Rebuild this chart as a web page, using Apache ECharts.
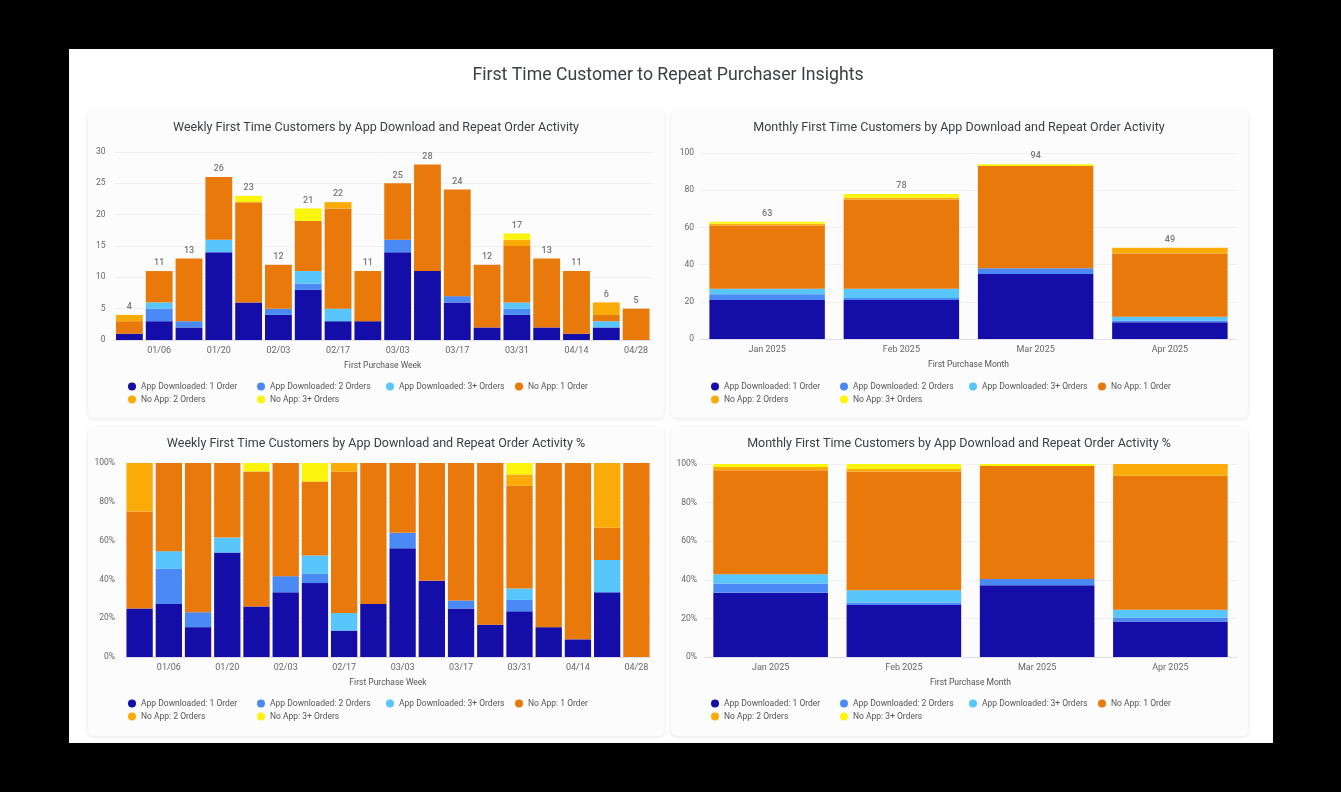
<!DOCTYPE html>
<html>
<head>
<meta charset="utf-8">
<script src="https://cdn.jsdelivr.net/npm/echarts@6/dist/echarts.min.js"></script>
<style>
  html, body { margin:0; padding:0; background:#000; width:1341px; height:792px; overflow:hidden; }
  #page { position:absolute; left:69px; top:49px; width:1204px; height:694px; background:#ffffff; }
  .card { position:absolute; background:#fcfcfc; border-radius:6px; box-shadow:0 1px 4px rgba(0,0,0,0.10); }
  #chart { position:absolute; left:0; top:0; width:1341px; height:792px; }
</style>
</head>
<body>
<div id="page"></div>
<div class="card" style="left:88px;top:110px;width:576px;height:308px;"></div>
<div class="card" style="left:671px;top:110px;width:577px;height:308px;"></div>
<div class="card" style="left:88px;top:427px;width:576px;height:309px;"></div>
<div class="card" style="left:671px;top:427px;width:577px;height:309px;"></div>
<div id="chart"></div>
<script>
// ---------- data ----------
const seriesNames = ['App Downloaded: 1 Order','App Downloaded: 2 Orders','App Downloaded: 3+ Orders','No App: 1 Order','No App: 2 Orders','No App: 3+ Orders'];
const seriesColors = ['#140da8','#4b8af5','#58c5fb','#e8790a','#fbab08','#fbf40c'];

const weeks = ['12/30','01/06','01/13','01/20','01/27','02/03','02/10','02/17','02/24','03/03','03/10','03/17','03/24','03/31','04/07','04/14','04/21','04/28'];
const wkApp1  = [1,3,2,14,6,4,8,3,3,14,11,6,2,4,2,1,2,0];
const wkApp2  = [0,2,1,0,0,1,1,0,0,2,0,1,0,1,0,0,0,0];
const wkApp3  = [0,1,0,2,0,0,2,2,0,0,0,0,0,1,0,0,1,0];
const wkNo1   = [2,5,10,10,16,7,8,16,8,9,17,17,10,9,11,10,1,5];
const wkNo2   = [1,0,0,0,0,0,0,1,0,0,0,0,0,1,0,0,2,0];
const wkNo3   = [0,0,0,0,1,0,2,0,0,0,0,0,0,1,0,0,0,0];

const months = ['Jan 2025','Feb 2025','Mar 2025','Apr 2025'];
const moApp1 = [21,21,35,9];
const moApp2 = [3,1,3,1];
const moApp3 = [3,5,0,2];
const moNo1  = [34,48,55,34];
const moNo2  = [1,1,0,3];
const moNo3  = [1,2,1,0];

const weeklyTicks = [0,5,10,15,20,25,30];
const monthlyTicks = [0,20,40,60,80,100];

// ---------- helpers ----------
const wk = [wkApp1,wkApp2,wkApp3,wkNo1,wkNo2,wkNo3];
const mo = [moApp1,moApp2,moApp3,moNo1,moNo2,moNo3];
function totals(arrs){ return arrs[0].map((_,i)=>arrs.reduce((s,a)=>s+a[i],0)); }
function pct(arrs){ const t = totals(arrs); return arrs.map(a=>a.map((v,i)=> t[i] ? v/t[i]*100 : 0)); }
const wkTot = totals(wk), moTot = totals(mo);
const wkPct = pct(wk), moPct = pct(mo);

const FONT = 'Roboto, "Noto Sans", sans-serif';
const labelColor = '#666';

function barSeries(arrs, idx, gap){
  return arrs.map((d,k)=>({
    type:'bar', name:seriesNames[k], stack:'s'+idx, xAxisIndex:idx, yAxisIndex:idx,
    data:d, barCategoryGap:gap, itemStyle:{color:seriesColors[k]}, emphasis:{disabled:true}
  }));
}
function totalSeries(t, idx){
  return {type:'scatter', xAxisIndex:idx, yAxisIndex:idx, data:t, symbolSize:1, silent:true,
    itemStyle:{color:'rgba(0,0,0,0)'},
    label:{show:true, position:'top', distance:3, color:'#555', fontSize:9, fontFamily:FONT, fontWeight:500}};
}
function legend(left, top){
  return {left:left, top:top, width:540, icon:'circle', itemWidth:8, itemHeight:8, itemGap:4,
    textStyle:{fontSize:8.5, color:'#555', fontFamily:FONT, width:112, lineHeight:9, padding:[0,0,0,0]},
    data:seriesNames, selectedMode:false};
}
function xAxis(idx, cats, name, weekly){
  return {type:'category', gridIndex:idx, data:cats, name:name, nameLocation:'middle', nameGap:21,
    nameTextStyle:{fontSize:8.5, color:'#555', fontFamily:FONT},
    axisLine:{lineStyle:{color:'#dde'}}, axisTick:{show:false},
    axisLabel:{fontSize:9, color:labelColor, fontFamily:FONT, margin:6,
      interval: weekly ? (i)=> i%2===1 : 0}};
}
function yAxis(idx, max, interval, percent, margin){
  return {type:'value', gridIndex:idx, min:0, max:max, interval:interval,
    axisLine:{show:false}, axisTick:{show:false},
    splitLine:{lineStyle:{color:'#eef0f4', width:1}},
    axisLabel:{fontSize:8.5, color:labelColor, fontFamily:FONT, margin:margin,
      formatter: percent ? '{value}%' : '{value}'}};
}
function panelTitle(text, x, y){
  return {text:text, left:x, top:y, textAlign:'center',
    textStyle:{fontSize:12.5, fontWeight:'normal', color:'#3c4043', fontFamily:FONT}};
}

const option = {
  animation:false,
  title:[
    {text:'First Time Customer to Repeat Purchaser Insights', left:663, top:62, textAlign:'center',
      textStyle:{fontSize:17.7, fontWeight:'normal', color:'#3c4043', fontFamily:FONT}},
    panelTitle('Weekly First Time Customers by App Download and Repeat Order Activity', 371, 116),
    panelTitle('Monthly First Time Customers by App Download and Repeat Order Activity', 954, 116),
    panelTitle('Weekly First Time Customers by App Download and Repeat Order Activity %', 371, 432),
    panelTitle('Monthly First Time Customers by App Download and Repeat Order Activity %', 954, 432)
  ],
  grid:[
    {left:114.5, right:690, top:152, bottom:452},
    {left:700, right:104, top:153, bottom:453},
    {left:125, right:690, top:463, bottom:135},
    {left:704, right:104, top:464, bottom:135}
  ],
  legend:[legend(123,377), legend(706,377), legend(123,694), legend(706,694)],
  xAxis:[
    xAxis(0, weeks, 'First Purchase Week', true),
    xAxis(1, months, 'First Purchase Month', false),
    xAxis(2, weeks, 'First Purchase Week', true),
    xAxis(3, months, 'First Purchase Month', false)
  ],
  yAxis:[
    yAxis(0, weeklyTicks[weeklyTicks.length-1], weeklyTicks[1]-weeklyTicks[0], false, 9),
    yAxis(1, monthlyTicks[monthlyTicks.length-1], monthlyTicks[1]-monthlyTicks[0], false, 6),
    yAxis(2, 100, 20, true, 10),
    yAxis(3, 100, 20, true, 7)
  ],
  series:[].concat(
    barSeries(wk,0,'10%'), [totalSeries(wkTot,0)],
    barSeries(mo,1,'14%'), [totalSeries(moTot,1)],
    barSeries(wkPct,2,'10%'),
    barSeries(moPct,3,'14%')
  )
};
const chart = echarts.init(document.getElementById('chart'), null, {renderer:'canvas'});
chart.setOption(option);
</script>
</body>
</html>
